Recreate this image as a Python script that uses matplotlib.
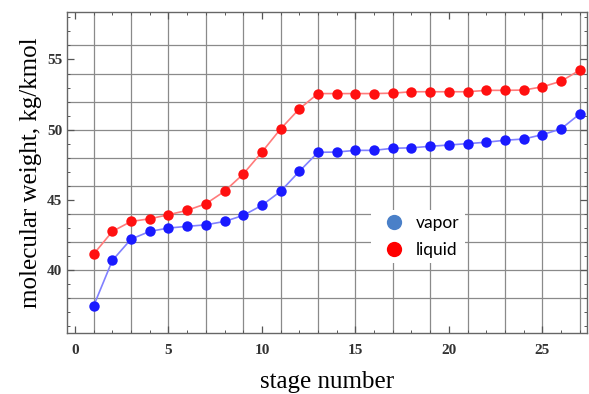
import matplotlib.pyplot as plt
from matplotlib.lines import Line2D
from matplotlib.ticker import MultipleLocator

stages = list(range(1, 28))
liquid = [41.12, 42.74, 43.45, 43.64, 43.93, 44.24, 44.71, 45.60, 46.83, 48.40,
          50.05, 51.48, 52.57, 52.57, 52.57, 52.57, 52.60, 52.70, 52.70, 52.70,
          52.70, 52.80, 52.80, 52.82, 53.05, 53.45, 54.24]
vapor = [37.43, 40.67, 42.19, 42.74, 42.98, 43.10, 43.21, 43.45, 43.88, 44.60,
         45.60, 47.02, 48.38, 48.40, 48.52, 48.52, 48.67, 48.70, 48.81, 48.90,
         49.00, 49.10, 49.24, 49.33, 49.64, 50.05, 51.12]

fig = plt.figure(figsize=(5.89, 3.94), dpi=100)
ax = fig.add_axes([0.113, 0.155, 0.884, 0.815])

# grid lines on the odd stages and every 2 kg/kmol
for x in range(1, 28, 2):
    ax.axvline(x, color='#8a8a8a', lw=0.9, zorder=0)
for y in range(38, 58, 2):
    ax.axhline(y, color='#8a8a8a', lw=0.9, zorder=0)

ax.plot(stages, liquid, '-', color='#ff7b7b', lw=1.2, zorder=2)
ax.plot(stages, liquid, 'o', color='#ff1010', ms=7.5, mec='none', zorder=3)
ax.plot(stages, vapor, '-', color='#8080ff', lw=1.2, zorder=2)
ax.plot(stages, vapor, 'o', color='#1a1aff', ms=7.5, mec='none', zorder=3)

ax.set_xlim(-0.45, 27.4)
ax.set_ylim(35.5, 58.4)
ax.xaxis.set_major_locator(MultipleLocator(5))
ax.xaxis.set_minor_locator(MultipleLocator(1))
ax.yaxis.set_major_locator(MultipleLocator(5))
ax.yaxis.set_minor_locator(MultipleLocator(1))
ax.tick_params(which='both', direction='in', top=True, right=True, color='#555555')
ax.tick_params(which='major', length=5, width=0.9)
ax.tick_params(which='minor', length=2.5, width=0.7)
ax.tick_params(axis='x', pad=8)
ax.tick_params(axis='y', pad=3)
for lab in ax.get_xticklabels() + ax.get_yticklabels():
    lab.set_fontfamily('Liberation Serif')
    lab.set_fontsize(11)
    lab.set_fontweight('bold')
    lab.set_color('#333333')
for s in ax.spines.values():
    s.set_color('#666666')
    s.set_linewidth(1.0)

ax.set_xlabel('stage number', family='Liberation Serif', size=18, labelpad=10)
ax.set_ylabel('molecular weight, kg/kmol', family='Liberation Serif', size=18, labelpad=4)

handles = [Line2D([], [], ls='none', marker='o', ms=11, color='#4a80c8', mec='none'),
           Line2D([], [], ls='none', marker='o', ms=11, color='#ff0000', mec='none')]
leg = ax.legend(handles, ['vapor', 'liquid'], loc='center left',
                bbox_to_anchor=(0.568, 0.30), frameon=True, facecolor='white',
                edgecolor='none', framealpha=1, prop={'family': 'Lato', 'size': 12.5},
                handletextpad=0.3, labelspacing=0.6, borderpad=0.3)

fig.savefig('out.png', dpi=100)
